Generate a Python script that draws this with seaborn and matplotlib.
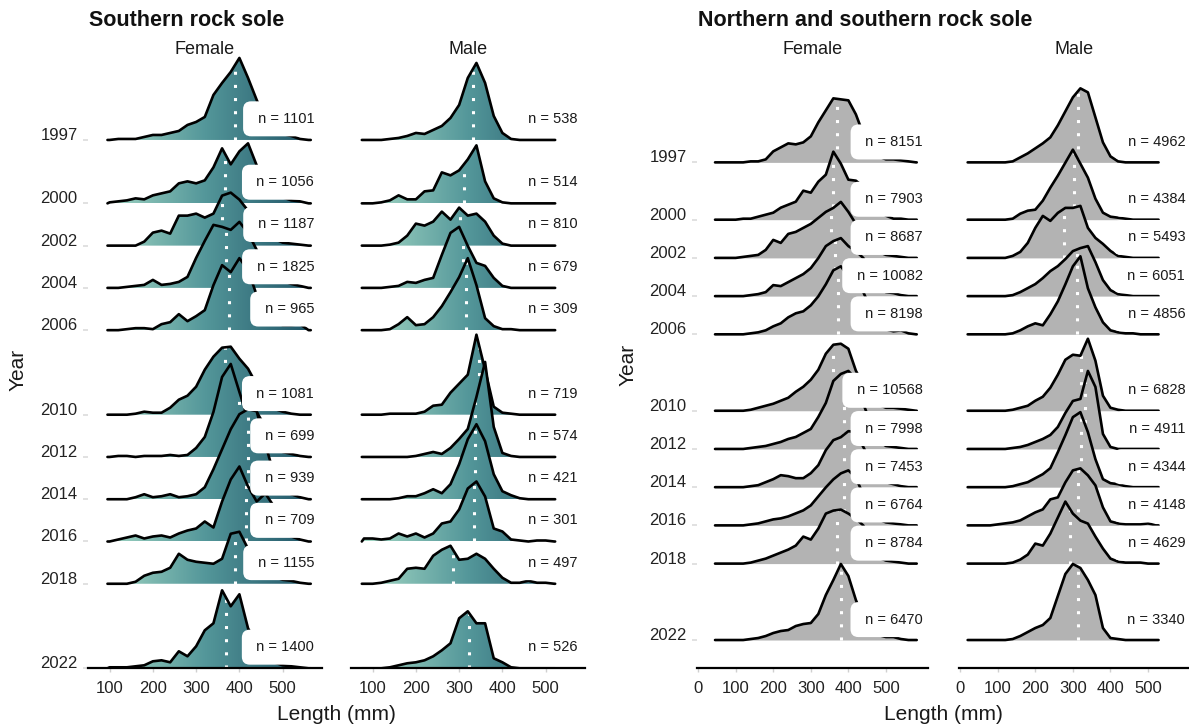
import numpy as np
import pandas as pd
import matplotlib
matplotlib.use("Agg")
import matplotlib.pyplot as plt
from matplotlib.colors import LinearSegmentedColormap
from matplotlib.patches import Polygon
import seaborn as sns

# Survey years (one ridge per year)
years = [1997, 2000, 2002, 2004, 2006, 2010, 2012, 2014, 2016, 2018, 2022]

# Length grids (mm) at which ridge heights were read, and the data range of each facet
grid_left_f = list(range(100, 561, 20))
grid_left_m = list(range(80, 521, 20))
grid_right_f = list(range(60, 581, 20))
grid_right_m = list(range(40, 521, 20))
span_left_f = (95, 565)
span_left_m = (75, 522)
span_right_f = (45, 582)
span_right_m = (20, 528)

# Ridge heights (relative density), one list per year
south_female = [
    [0, 1, 1, 1, 3, 5, 5, 7, 9, 15, 18, 23, 45, 57, 68, 82, 62, 40, 20, 8, 6, 4, 1, 0],
    [1, 2, 3, 5, 4, 8, 10, 12, 20, 22, 20, 23, 36, 55, 39, 52, 60, 38, 22, 12, 6, 3, 2, 0],
    [0, 0, 0, 0, 4, 13, 15, 12, 30, 30, 32, 28, 32, 50, 53, 46, 35, 24, 14, 7, 3, 2, 1, 0],
    [0, 0, 1, 2, 3, 8, 3, 4, 6, 11, 30, 47, 63, 61, 58, 66, 55, 38, 22, 12, 7, 4, 2, 0],
    [0, 0, 1, 2, 2, 1, 6, 8, 16, 9, 14, 20, 45, 65, 58, 72, 60, 35, 18, 8, 5, 5, 6, 0],
    [0, 0, 0, 1, 3, 2, 2, 7, 15, 19, 28, 45, 58, 67, 68, 56, 46, 30, 15, 6, 3, 1, 0, 0],
    [0, 1, 1, 0, 1, 1, 1, 2, 1, 2, 9, 20, 45, 80, 93, 65, 38, 45, 30, 12, 5, 3, 1, 0],
    [0, 0, 0, 2, 5, 2, 3, 5, 2, 3, 5, 12, 30, 50, 70, 85, 90, 88, 55, 25, 10, 5, 2, 0],
    [0, 2, 4, 6, 3, 5, 6, 4, 8, 11, 13, 20, 14, 40, 62, 75, 55, 40, 48, 35, 10, 5, 2, 0],
    [0, 0, 0, 2, 8, 11, 12, 16, 30, 24, 22, 21, 20, 25, 50, 52, 35, 22, 12, 7, 4, 3, 1, 0],
    [1, 1, 1, 2, 3, 7, 8, 6, 17, 12, 22, 38, 45, 78, 62, 74, 40, 25, 12, 6, 3, 2, 1, 0],
]
south_male = [
    [0, 0, 0, 1, 2, 4, 7, 6, 10, 14, 22, 35, 62, 77, 57, 24, 7, 1, 0, 0, 0, 0, 0],
    [0, 0, 1, 3, 8, 4, 4, 12, 13, 31, 28, 33, 44, 58, 22, 5, 1, 0, 0, 0, 0, 0, 0],
    [0, 0, 0, 1, 3, 10, 22, 20, 24, 34, 26, 38, 30, 32, 24, 10, 2, 0, 0, 0, 0, 0, 0],
    [0, 0, 0, 1, 2, 6, 5, 8, 10, 33, 55, 61, 42, 25, 22, 10, 2, 0, 0, 0, 0, 0, 0],
    [0, 0, 0, 1, 6, 13, 5, 6, 13, 24, 38, 53, 72, 45, 12, 4, 1, 1, 0, 0, 0, 0, 0],
    [0, 0, 0, 1, 1, 1, 1, 3, 9, 10, 22, 31, 40, 80, 45, 8, 2, 1, 0, 0, 0, 0, 0],
    [0, 0, 0, 0, 0, 0, 1, 3, 5, 3, 9, 18, 28, 60, 95, 30, 4, 1, 0, 0, 0, 0, 0],
    [0, 0, 0, 0, 1, 3, 3, 6, 10, 6, 15, 35, 60, 75, 58, 25, 8, 4, 1, 0, 0, 0, 0],
    [3, 3, 2, 3, 8, 5, 8, 4, 8, 18, 20, 32, 53, 60, 45, 13, 10, 2, 1, 0, 1, 1, 0],
    [0, 0, 1, 3, 5, 15, 16, 15, 28, 34, 38, 24, 25, 30, 25, 15, 6, 1, 1, 3, 1, 1, 0],
    [0, 0, 0, 1, 3, 5, 6, 8, 12, 18, 25, 50, 57, 45, 45, 10, 6, 1, 0, 0, 0, 0, 0],
]
both_female = [
    [0, 0, 0, 0, 1, 1, 3, 11, 15, 19, 18, 20, 26, 40, 52, 64, 63, 62, 48, 28, 15, 6, 3, 3, 2, 1, 0],
    [0, 0, 0, 1, 1, 3, 5, 7, 12, 15, 18, 29, 27, 38, 45, 68, 56, 40, 39, 33, 20, 10, 4, 1, 1, 0, 0],
    [0, 0, 0, 1, 2, 3, 8, 18, 15, 24, 26, 30, 34, 40, 46, 50, 56, 46, 34, 22, 12, 6, 3, 2, 1, 0, 0],
    [0, 0, 0, 0, 1, 2, 4, 11, 10, 14, 18, 22, 28, 38, 50, 55, 58, 50, 45, 38, 20, 8, 4, 3, 1, 0, 0],
    [0, 0, 0, 0, 1, 2, 4, 8, 11, 17, 21, 23, 29, 38, 50, 64, 68, 58, 50, 42, 25, 10, 5, 3, 4, 1, 0],
    [0, 0, 0, 0, 1, 3, 5, 7, 10, 13, 19, 24, 31, 41, 57, 66, 67, 62, 40, 26, 14, 6, 3, 3, 2, 1, 0],
    [0, 0, 0, 0, 1, 2, 3, 5, 7, 10, 12, 16, 20, 32, 46, 68, 75, 78, 70, 45, 25, 8, 3, 2, 1, 0, 0],
    [0, 0, 0, 0, 1, 2, 5, 8, 12, 11, 9, 9, 14, 22, 37, 47, 50, 56, 55, 40, 25, 10, 5, 3, 1, 0, 0],
    [0, 0, 0, 0, 1, 2, 4, 6, 7, 9, 12, 15, 20, 29, 38, 46, 52, 55, 48, 30, 15, 6, 3, 2, 1, 0, 0],
    [0, 0, 0, 0, 1, 3, 5, 8, 11, 14, 18, 27, 24, 35, 50, 53, 54, 50, 45, 38, 18, 6, 3, 2, 1, 0, 0],
    [0, 0, 0, 0, 1, 2, 4, 7, 9, 10, 14, 16, 17, 26, 45, 60, 76, 64, 40, 22, 10, 5, 3, 3, 1, 0, 0],
]
both_male = [
    [0, 0, 0, 0, 0, 1, 5, 9, 14, 19, 25, 37, 51, 65, 74, 70, 45, 20, 6, 1, 0, 0, 0, 0, 0],
    [0, 0, 0, 0, 0, 1, 6, 9, 10, 19, 32, 44, 57, 70, 56, 42, 21, 7, 3, 2, 1, 0, 0, 0, 0],
    [0, 0, 0, 0, 0, 2, 6, 15, 30, 42, 37, 45, 50, 50, 52, 30, 20, 14, 7, 2, 1, 0, 0, 0, 0],
    [0, 0, 0, 0, 0, 1, 4, 8, 12, 18, 25, 30, 37, 45, 48, 50, 34, 16, 6, 2, 1, 0, 0, 0, 0],
    [0, 0, 0, 0, 0, 1, 4, 8, 11, 9, 20, 33, 50, 68, 78, 46, 27, 12, 4, 2, 1, 1, 0, 0, 0],
    [0, 0, 0, 0, 0, 1, 3, 5, 10, 14, 23, 36, 51, 56, 55, 72, 50, 15, 3, 1, 0, 0, 0, 0, 0],
    [0, 0, 0, 0, 0, 1, 2, 4, 7, 10, 14, 22, 36, 48, 50, 78, 62, 15, 2, 0, 0, 0, 0, 0, 0],
    [0, 0, 0, 0, 0, 1, 3, 5, 9, 13, 19, 35, 52, 70, 75, 55, 28, 8, 4, 3, 1, 0, 0, 0, 0],
    [0, 0, 0, 1, 2, 3, 5, 9, 13, 16, 26, 28, 43, 55, 57, 50, 40, 18, 4, 2, 1, 1, 1, 2, 0],
    [0, 0, 0, 0, 0, 1, 4, 9, 20, 18, 30, 46, 62, 50, 43, 40, 27, 15, 5, 2, 1, 1, 1, 0, 0],
    [0, 0, 0, 0, 0, 1, 4, 8, 12, 15, 22, 44, 66, 76, 72, 60, 45, 12, 2, 1, 0, 0, 0, 0, 0],
]

# Median lengths (mm)
med_south_female = [390, 366, 360, 370, 376, 367, 400, 420, 416, 390, 370]
med_south_male = [331, 311, 302, 310, 316, 345, 337, 336, 335, 286, 323]
med_both_female = [369, 360, 354, 364, 373, 360, 389, 389, 389, 370, 380]
med_both_male = [313, 303, 276, 310, 310, 322, 332, 322, 313, 293, 313]

# Sample sizes
n_south_female = [1101, 1056, 1187, 1825, 965, 1081, 699, 939, 709, 1155, 1400]
n_south_male = [538, 514, 810, 679, 309, 719, 574, 421, 301, 497, 526]
n_both_female = [8151, 7903, 8687, 10082, 8198, 10568, 7998, 7453, 6764, 8784, 6470]
n_both_male = [4962, 4384, 5493, 6051, 4856, 6828, 4911, 4344, 4148, 4629, 3340]

sns.set_theme(style="white")
plt.rcParams["font.family"] = ["Liberation Sans", "DejaVu Sans"]

W, H = 1189, 726
fig = plt.figure(figsize=(W / 100, H / 100), dpi=100)

cmap = LinearSegmentedColormap.from_list("sole", ["#aee0ca", "#54979a", "#1b4e62"])
grad = np.linspace(0, 1, 256).reshape(1, -1)


def add_ax(x0, x1, top, bottom):
    return fig.add_axes([x0 / W, 1 - bottom / H, (x1 - x0) / W, (bottom - top) / H])


def draw_ridges(ax, grid, span, heights, medians, counts, unit, gradient,
                xlim, ylim, label_x, label_off):
    for i, yr in enumerate(years):
        x = np.array([span[0]] + grid + [span[1]], float)
        h = np.array([0] + heights[i] + [0], float) / unit
        top = yr - h
        z = 2 + i
        if gradient:
            im = ax.imshow(grad, extent=[xlim[0], xlim[1], yr, yr - h.max() - 0.2],
                           cmap=cmap, aspect="auto", zorder=z, interpolation="bilinear")
            xy = np.column_stack([np.r_[x, x[::-1]], np.r_[top, np.full(len(x), yr)]])
            poly = Polygon(xy, closed=True, fc="none", ec="none", transform=ax.transData)
            im.set_clip_path(poly)
        else:
            ax.fill_between(x, yr, top, color="#b3b3b3", lw=0, zorder=z)
        hm = np.interp(medians[i], x, h)
        ax.plot([medians[i], medians[i]], [yr, yr - hm], color="white", lw=2.2,
                ls=(0, (1, 3.3)), zorder=z + 0.2)
        ridge = pd.DataFrame({"length": x, "y": top})
        sns.lineplot(data=ridge, x="length", y="y", ax=ax, color="black", linewidth=1.9,
                     sort=False, estimator=None, zorder=z + 0.4,
                     solid_joinstyle="round", solid_capstyle="round")
        ax.text(label_x, yr - label_off, f" n = {counts[i]}", ha="right", va="center",
                fontsize=10.5, color="#1a1a1a", zorder=100, clip_on=False,
                bbox=dict(boxstyle="round,pad=0.72,rounding_size=0.55", fc="white", ec="none"))
    ax.set_xlim(*xlim)
    ax.set_ylim(*ylim)
    ax.set_xlabel("")
    ax.set_ylabel("")
    for s in ["top", "right", "left"]:
        ax.spines[s].set_visible(False)
    ax.spines["bottom"].set_color("black")
    ax.spines["bottom"].set_linewidth(1.6)
    ax.spines["bottom"].set_zorder(60)
    ax.tick_params(axis="x", length=3, width=1, color="#d0d0d0", pad=6,
                   labelsize=12, labelcolor="#222222", bottom=True)
    ax.grid(False)
    ax.set_facecolor("none")


def year_axis(ax):
    ax.set_yticks(years)
    ax.set_yticklabels([str(y) for y in years])
    ax.tick_params(axis="y", length=3.5, width=1.2, color="#dcdcdc", pad=4,
                   labelsize=12, labelcolor="#222222", left=True)
    for lab in ax.get_yticklabels():
        lab.set_va("baseline")


def no_year_axis(ax):
    ax.set_yticks([])


south_ylim = (2022, 1992.98)
both_ylim = (2023.48, 1991.38)

ax_lf = add_ax(88, 322, 55, 668.3)
draw_ridges(ax_lf, grid_left_f, span_left_f, south_female, med_south_female, n_south_female,
            21.13, True, (50, 591), south_ylim, 573, 1.0)
ax_lf.set_xticks([100, 200, 300, 400, 500])
year_axis(ax_lf)

ax_lm = add_ax(351, 585, 55, 668.3)
draw_ridges(ax_lm, grid_left_m, span_left_m, south_male, med_south_male, n_south_male,
            21.13, True, (50, 591), south_ylim, 574, 1.0)
ax_lm.set_xticks([100, 200, 300, 400, 500])
no_year_axis(ax_lm)

ax_rf = add_ax(697, 928, 55, 668.3)
draw_ridges(ax_rf, grid_right_f, span_right_f, both_female, med_both_female, n_both_female,
            19.1, False, (-3, 612), both_ylim, 598, 1.07)
ax_rf.set_xticks([0, 100, 200, 300, 400, 500])
year_axis(ax_rf)

ax_rm = add_ax(959, 1189, 55, 668.3)
draw_ridges(ax_rm, grid_right_m, span_right_m, both_male, med_both_male, n_both_male,
            19.1, False, (-3, 609), both_ylim, 599, 1.07)
ax_rm.set_xticks([0, 100, 200, 300, 400, 500])
no_year_axis(ax_rm)

# titles, strips and axis titles
fig.text(89 / W, 1 - 21 / H, "Southern rock sole", fontsize=15.5, fontweight="bold",
         ha="left", va="center", color="#111111")
fig.text(698 / W, 1 - 21 / H, "Northern and southern rock sole", fontsize=15.5,
         fontweight="bold", ha="left", va="center", color="#111111")
for cx, lab in [(205, "Female"), (468, "Male"), (812.5, "Female"), (1074, "Male")]:
    fig.text(cx / W, 1 - 49 / H, lab, fontsize=13, ha="center", va="center", color="#1a1a1a")
fig.text(18 / W, 1 - 370 / H, "Year", fontsize=15, rotation=90, ha="center", va="center",
         color="#1a1a1a")
fig.text(628 / W, 1 - 365 / H, "Year", fontsize=15, rotation=90, ha="center", va="center",
         color="#1a1a1a")
fig.text(336.5 / W, 1 - 715 / H, "Length (mm)", fontsize=15, ha="center", va="center",
         color="#1a1a1a")
fig.text(943 / W, 1 - 715 / H, "Length (mm)", fontsize=15, ha="center", va="center",
         color="#1a1a1a")

fig.savefig("out.png", dpi=100, facecolor="white")
